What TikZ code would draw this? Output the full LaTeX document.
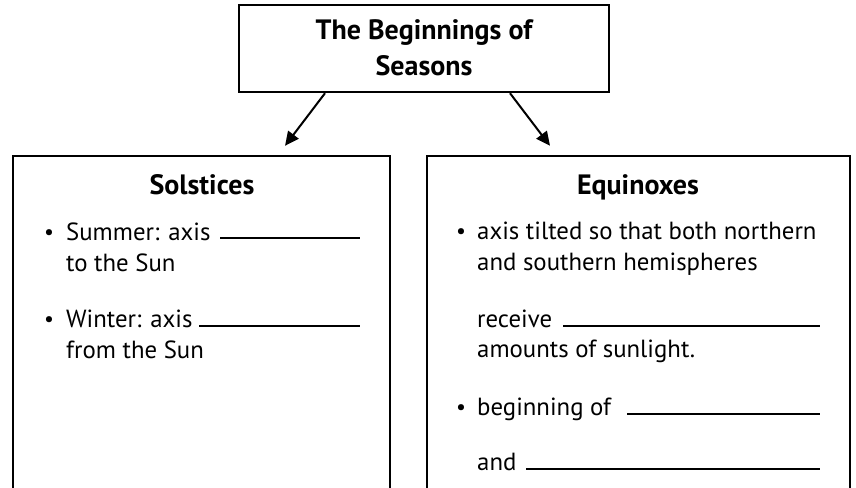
\documentclass[tikz,border=0pt]{standalone}
\usepackage{fontspec}
\setmainfont{PT Sans}
\usetikzlibrary{arrows.meta,calc}
\begin{document}
\begin{tikzpicture}[x=1pt,y=-1pt,
  box/.style={draw,line width=2.4pt,inner sep=0pt},
  txt/.style={anchor=base west,inner sep=0pt,font=\fontsize{24.8}{30}\selectfont},
  ttl/.style={anchor=base,inner sep=0pt,font=\fontsize{28}{32}\selectfont\bfseries},
  bul/.style={anchor=base,inner sep=0pt,font=\fontsize{22}{26}\selectfont},
  blank/.style={line width=2pt},
  arr/.style={line width=2pt,-{Triangle[length=14pt,width=13pt]}}]
\useasboundingbox (0,0) rectangle (856,487);
\clip (0,0) rectangle (856,487);
% boxes
\node[box,minimum width=370pt,minimum height=87pt] (top) at (424,48.5) {};
\node[box,minimum width=377pt,minimum height=344pt] (left) at (201.5,328) {};
\node[box,minimum width=423pt,minimum height=344pt] (right) at (638.5,328) {};
% arrows
\draw[arr] ($(top.south)+(-99,0)$) -- ($(left.north)+(83.5,-9)$);
\draw[arr] ($(top.south)+(86,0)$) -- ($(right.north)+(-88.5,-9)$);
% top title
\node[ttl] (t1) at (424,40) {The Beginnings of};
\node[ttl] (t2) at (424,75) {Seasons};
% left box
\node[ttl] (sol) at (202,194) {Solstices};
\node[bul] (b1) at (49,239) {•};
\node[txt] (l1) at (66,240) {Summer: axis};
\draw[blank] (220,238) -- (360,238);
\node[txt] (l2) at (66,271) {to the Sun};
\node[bul] (b2) at (49,326) {•};
\node[txt] (l3) at (66,327) {Winter: axis};
\draw[blank] (199,326) -- (360,326);
\node[txt] (l4) at (66,358) {from the Sun};
% right box
\node[ttl] (equ) at (638,194) {Equinoxes};
\node[bul] (b3) at (461,238) {•};
\node[txt] (r1) at (477,239) {axis tilted so that both northern};
\node[txt] (r2) at (477,270) {and southern hemispheres};
\node[txt] (r3) at (477,327) {receive};
\draw[blank] (563,326) -- (820,326);
\node[txt] (r4) at (477,357) {amounts of sunlight.};
\node[bul] (b4) at (461,414) {•};
\node[txt] (r5) at (477,415) {beginning of};
\draw[blank] (627,414) -- (820,414);
\node[txt] (r6) at (477,470) {and};
\draw[blank] (526,469) -- (820,469);
\end{tikzpicture}
\end{document}
